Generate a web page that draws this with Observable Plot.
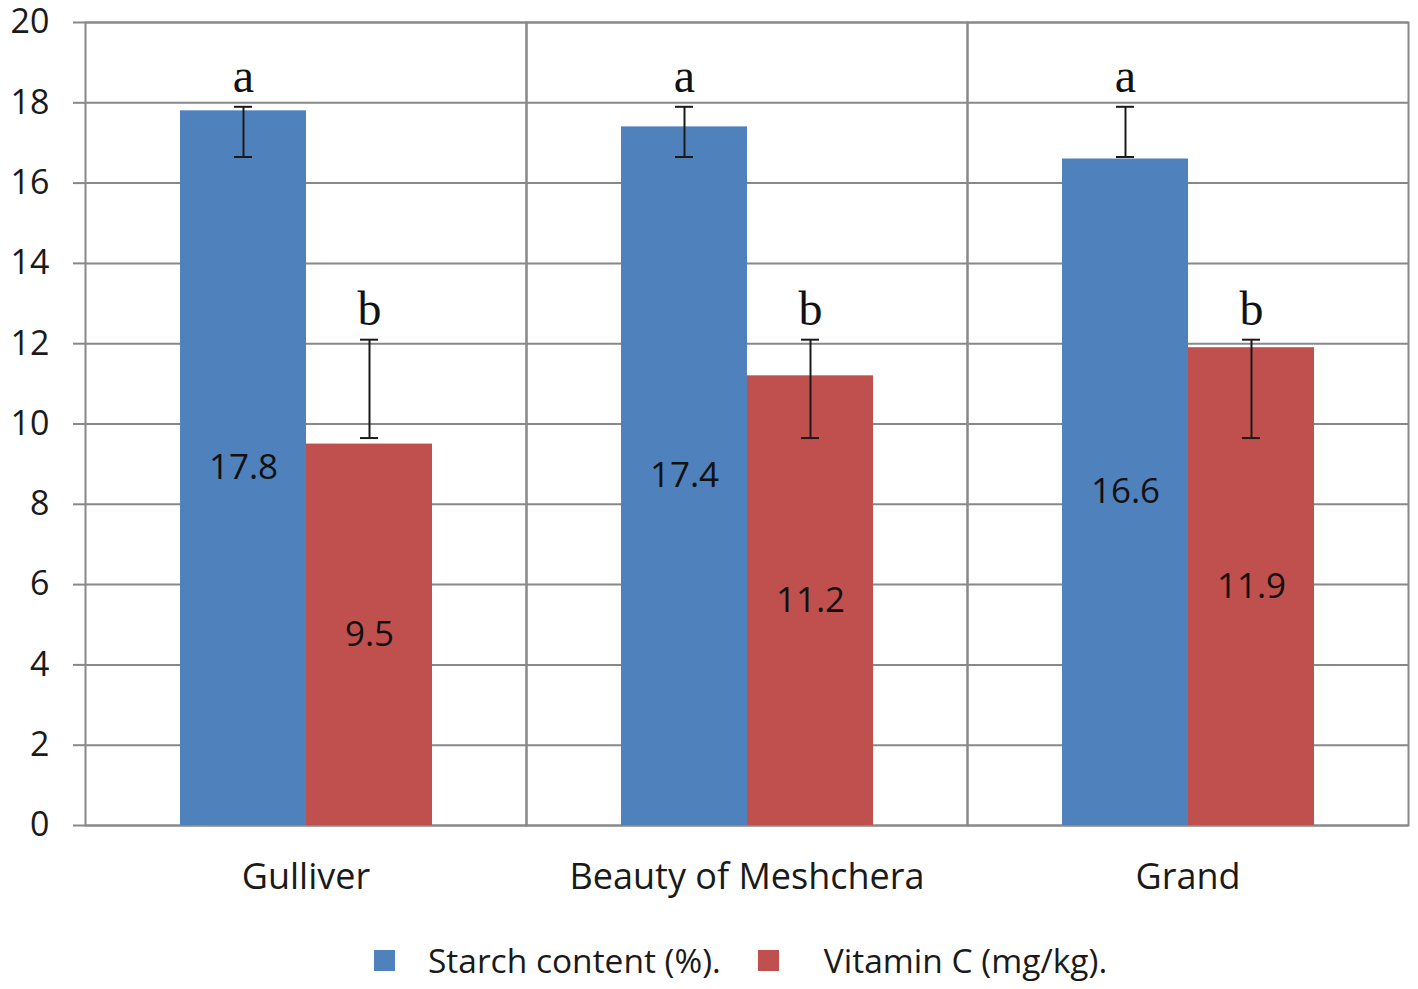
<!DOCTYPE html>
<html>
<head>
<meta charset="utf-8">
<script src="https://cdn.jsdelivr.net/npm/d3@7"></script>
<script src="https://cdn.jsdelivr.net/npm/@observablehq/plot@0.6"></script>
<style>
  body { margin: 0; background: #fff; position: relative; width: 1418px; height: 989px; overflow: hidden; }
  #chart svg [aria-label^="y-axis"] path { stroke: #888; stroke-width: 2px; }
  #chart svg [aria-label^="y-axis"] text { font-size: 34px; }
  #legend { position: absolute; top: 937px; left: 374px; display: flex; align-items: center;
            font-family: "Open Sans", sans-serif; font-size: 33.5px; color: #1a1a1a; white-space: nowrap; }
  .sw { width: 21px; height: 21px; display: inline-block; }
</style>
</head>
<body>
<div id="chart"></div>
<div id="legend"></div>
<script>
const varieties = ["Gulliver", "Beauty of Meshchera", "Grand"];
const seriesNames = ["Starch content (%).", "Vitamin C (mg/kg)."];
const seriesColors = ["#4F81BD", "#C0504D"];
const starch = [17.8, 17.4, 16.6];
const vitaminC = [9.5, 11.2, 11.9];
const starchErrLow = [16.65, 16.65, 16.65];
const starchErrHigh = [17.9, 17.9, 17.9];
const vitaminErrLow = [9.65, 9.65, 9.65];
const vitaminErrHigh = [12.1, 12.1, 12.1];
const letters = ["a", "b"];
const yTicks = [0, 2, 4, 6, 8, 10, 12, 14, 16, 18, 20];

const data = [];
varieties.forEach((v, i) => {
  data.push({variety: v, series: seriesNames[0], value: starch[i], lo: starchErrLow[i], hi: starchErrHigh[i], letter: letters[0]});
  data.push({variety: v, series: seriesNames[1], value: vitaminC[i], lo: vitaminErrLow[i], hi: vitaminErrHigh[i], letter: letters[1]});
});

const chart = Plot.plot({
  width: 1418,
  height: 910,
  marginTop: 22,
  marginLeft: 84,
  marginRight: 10,
  marginBottom: 85,
  style: {fontFamily: "Open Sans, sans-serif", fontSize: "36px", color: "#1a1a1a", background: "#fff", overflow: "visible"},
  fx: {domain: varieties, padding: 0, label: null, axis: "bottom", tickSize: 0, tickPadding: 38},
  x: {domain: seriesNames, paddingInner: 0, paddingOuter: 0.75, axis: null},
  y: {domain: [0, 20], ticks: yTicks, tickSize: 12, tickPadding: 24, label: null},
  color: {domain: seriesNames, range: seriesColors},
  marks: [
    Plot.ruleY(yTicks, {stroke: "#888", strokeWidth: 2}),
    Plot.frame({stroke: "#888", strokeWidth: 2}),
    Plot.barY(data, {fx: "variety", x: "series", y: "value", fill: "series"}),
    Plot.ruleX(data, {fx: "variety", x: "series", y1: "lo", y2: "hi", stroke: "#1a1a1a", strokeWidth: 2}),
    Plot.tickY(data, {fx: "variety", x: "series", y: "lo", insetLeft: 54, insetRight: 54, stroke: "#1a1a1a", strokeWidth: 2}),
    Plot.tickY(data, {fx: "variety", x: "series", y: "hi", insetLeft: 54, insetRight: 54, stroke: "#1a1a1a", strokeWidth: 2}),
    Plot.text(data, {fx: "variety", x: "series", y: d => d.value / 2, text: d => d.value.toFixed(1), fill: "#111", fontSize: 35}),
    Plot.text(data, {fx: "variety", x: "series", y: "hi", text: "letter", lineAnchor: "bottom", dy: -15,
                     fontFamily: "Liberation Serif, serif", fontSize: 48, fill: "#111"})
  ]
});
document.getElementById("chart").appendChild(chart);

const legend = document.getElementById("legend");
seriesNames.forEach((name, i) => {
  const sw = document.createElement("span");
  sw.className = "sw";
  sw.style.background = seriesColors[i];
  sw.style.marginRight = i === 0 ? "33px" : "45px";
  const t = document.createElement("span");
  t.textContent = name;
  t.style.marginRight = "37px";
  legend.appendChild(sw);
  legend.appendChild(t);
});
</script>
</body>
</html>
